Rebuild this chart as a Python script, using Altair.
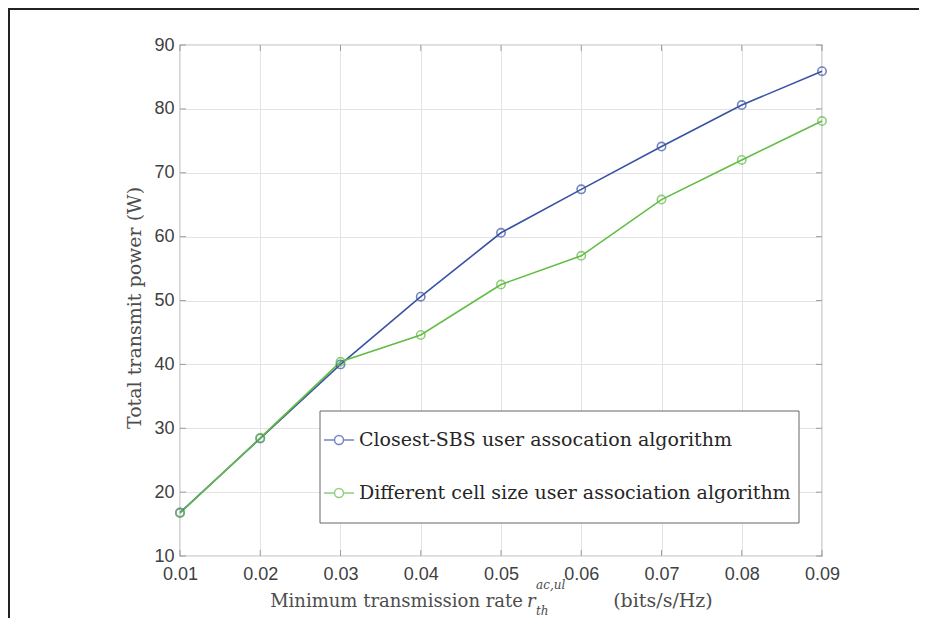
import altair as alt
import pandas as pd

rates = [0.01, 0.02, 0.03, 0.04, 0.05, 0.06, 0.07, 0.08, 0.09]
closest_sbs = [16.8, 28.4, 40.0, 50.6, 60.6, 67.4, 74.1, 80.6, 85.9]
diff_cell = [16.7, 28.5, 40.4, 44.6, 52.5, 57.0, 65.8, 72.0, 78.1]
series_names = ["Closest-SBS user assocation algorithm",
                "Different cell size user association algorithm"]
series_colors = ["#3853a4", "#62bd45"]
x_ticks = [0.01, 0.02, 0.03, 0.04, 0.05, 0.06, 0.07, 0.08, 0.09]
y_ticks = [10, 20, 30, 40, 50, 60, 70, 80, 90]

rows = []
for r, a, b in zip(rates, closest_sbs, diff_cell):
    rows.append({"x": r, "y": a, "series": series_names[0]})
    rows.append({"x": r, "y": b, "series": series_names[1]})
df = pd.DataFrame(rows)

W, H = 642, 511
AX = "#7a7a7a"
TXT = "#4d4d4d"
SERIF = "DejaVu Serif"

xscale = alt.Scale(domain=[0.01, 0.09], nice=False, zero=False)
yscale = alt.Scale(domain=[10, 90], nice=False, zero=False)

xaxis = alt.Axis(values=x_ticks, format=".2f", title=None,
                 grid=True, gridColor="#e3e3e3", ticks=False,
                 domain=False, labelPadding=9, labelFlush=False,
                 labelFont="Liberation Sans", labelFontSize=18,
                 labelColor="#404040")
yaxis = alt.Axis(values=y_ticks, format="d", title=None,
                 grid=True, gridColor="#e3e3e3", ticks=False,
                 domain=False, labelPadding=6, labelFlush=False,
                 labelFont="Liberation Sans", labelFontSize=18,
                 labelColor="#404040")

legend_path = ("M-1,0H-0.3M0.3,0H1M-0.3,0A0.3,0.3,0,1,1,0.3,0"
               "A0.3,0.3,0,1,1,-0.3,0")

color = alt.Color(
    "series:N",
    scale=alt.Scale(domain=series_names, range=series_colors),
    legend=alt.Legend(
        title=None, orient="none", legendX=143, legendY=379,
        padding=0,
        labelFont=SERIF, labelFontSize=19, labelColor="#262626",
        labelLimit=800, labelOffset=4,
        symbolType=legend_path, symbolSize=900, symbolStrokeWidth=1.5,
        rowPadding=27,
    ),
)

base = alt.Chart(df).encode(
    x=alt.X("x:Q", scale=xscale, axis=xaxis),
    y=alt.Y("y:Q", scale=yscale, axis=yaxis),
    color=color,
    order=alt.Order("x:Q"),
)

lines = base.mark_line(strokeWidth=1.6)
points = base.mark_point(shape="circle", size=70, filled=False, strokeWidth=1.6)

xt = pd.DataFrame({"x": x_ticks})
yt = pd.DataFrame({"y": y_ticks})
tick_bottom = alt.Chart(xt).mark_tick(size=6, thickness=1, color=AX).encode(
    x=alt.X("x:Q", scale=xscale, axis=xaxis), y=alt.value(H - 3))
tick_top = alt.Chart(xt).mark_tick(size=6, thickness=1, color=AX).encode(
    x=alt.X("x:Q", scale=xscale, axis=xaxis), y=alt.value(3))
tick_left = alt.Chart(yt).mark_tick(size=6, thickness=1, color=AX).encode(
    y=alt.Y("y:Q", scale=yscale, axis=yaxis), x=alt.value(3))
tick_right = alt.Chart(yt).mark_tick(size=6, thickness=1, color=AX).encode(
    y=alt.Y("y:Q", scale=yscale, axis=yaxis), x=alt.value(W - 3))

one = alt.Data(values=[{"k": 0}])

legend_box = alt.Chart(one).mark_rect(
    fill="white", stroke="#666666", strokeWidth=1).encode(
    x=alt.value(140), x2=alt.value(619), y=alt.value(366), y2=alt.value(478))


def label(text, x, y, size=19, align="left", angle=0, style="normal"):
    return alt.Chart(one).mark_text(
        text=text, font=SERIF, fontSize=size, align=align,
        baseline="alphabetic", angle=angle, color=TXT, fontStyle=style,
    ).encode(x=alt.value(x), y=alt.value(y))


xtitle_main = label("Minimum transmission rate", 343, 562, size=18, align="right")
xtitle_r = label("r", 347, 562, size=18, style="italic")
xtitle_sup = label("ac,ul", 356, 544, size=12, style="italic")
xtitle_sub = label("th", 356, 570, size=12, style="italic")
xtitle_unit = label("(bits/s/Hz)", 483, 562, align="center")
ytitle = alt.Chart(one).mark_text(
    text="Total transmit power (W)", font=SERIF, fontSize=19, align="center",
    baseline="middle", angle=270, color=TXT,
).encode(x=alt.value(-45), y=alt.value(263))

frame_top = alt.Chart(one).mark_rule(color="#222222", strokeWidth=2).encode(
    x=alt.value(-172), x2=alt.value(760), y=alt.value(-36))
frame_left = alt.Chart(one).mark_rule(color="#222222", strokeWidth=2).encode(
    x=alt.value(-171), y=alt.value(-37), y2=alt.value(600))

chart = alt.layer(
    lines, points,
    tick_bottom, tick_top, tick_left, tick_right,
    legend_box,
    xtitle_main, xtitle_r, xtitle_sup, xtitle_sub, xtitle_unit, ytitle,
    frame_top, frame_left,
).properties(
    width=W, height=H,
    autosize=alt.AutoSizeParams(type="none"),
    padding={"left": 172, "top": 37, "right": 97, "bottom": 62},
    background="white",
).configure_view(
    stroke=AX, strokeWidth=1.2,
)

chart.save("out.html", embed_options={"renderer": "svg", "actions": False})
